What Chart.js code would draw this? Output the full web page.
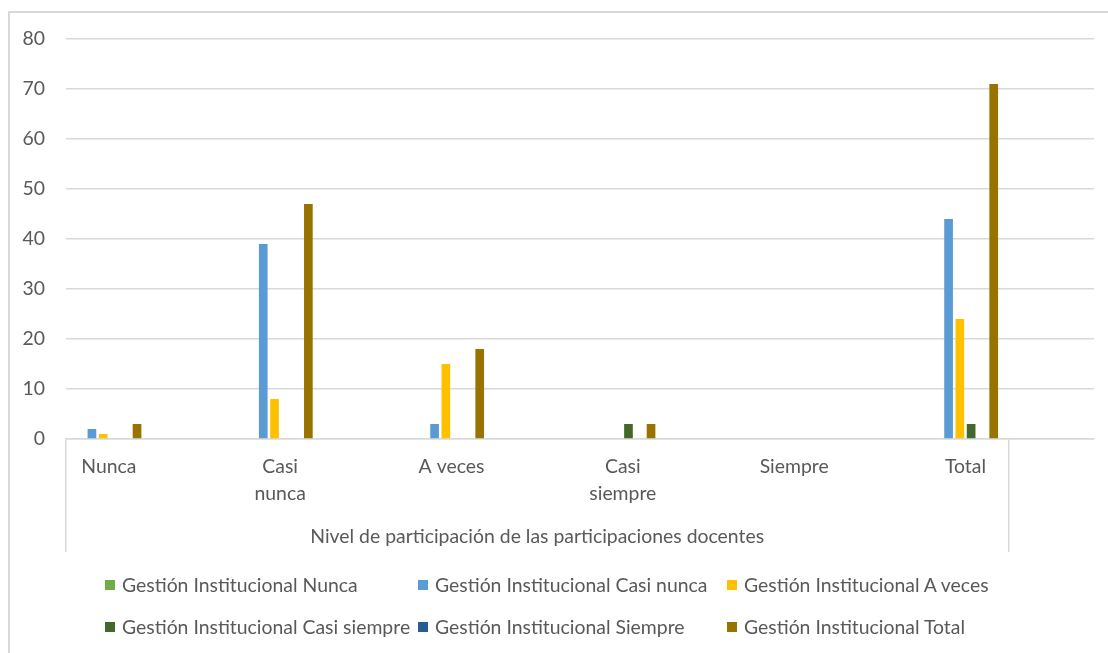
<!DOCTYPE html>
<html lang="es">
<head>
<meta charset="utf-8">
<title>Gestión Institucional</title>
<script src="https://cdn.jsdelivr.net/npm/chart.js@4/dist/chart.umd.min.js"></script>
<style>
  html, body { margin: 0; padding: 0; background: #ffffff; }
  #wrap { position: relative; width: 1108px; height: 653px; overflow: hidden; }
  #frame { position: absolute; left: 8px; top: 11px; width: 1200px; height: 700px;
           border-top: 2px solid #d9d9d9; border-left: 2px solid #d9d9d9; box-sizing: border-box; }
  canvas { position: absolute; left: 0; top: 0; }
  .leg { position: absolute; font-family: Lato, "Liberation Sans", sans-serif; font-size: 19.4px;
         color: #595959; white-space: nowrap; line-height: 20px; }
  .leg i { position: absolute; left: 0; top: 5px; width: 10px; height: 10px; }
  .leg span { position: absolute; left: 17px; top: 0; }
</style>
</head>
<body>
<div id="wrap">
  <div id="frame"></div>
  <canvas id="c" width="1108" height="653"></canvas>
  <div id="legend"></div>
</div>
<script>
// Categories (participation level) and one series per response group
const categories = ['Nunca', ['Casi', 'nunca'], 'A veces', ['Casi', 'siempre'], 'Siempre', 'Total'];
const groupLabel = 'Nivel de participación de las participaciones docentes';

const seriesNames = [
  'Gestión Institucional Nunca',
  'Gestión Institucional Casi nunca',
  'Gestión Institucional A veces',
  'Gestión Institucional Casi siempre',
  'Gestión Institucional Siempre',
  'Gestión Institucional Total'
];
const seriesColors = ['#70ad47', '#5b9bd5', '#ffc000', '#43682b', '#255e91', '#997300'];

const giNunca       = [0, 0, 0, 0, 0, 0];
const giCasiNunca   = [2, 39, 3, 0, 0, 44];
const giAVeces      = [1, 8, 15, 0, 0, 24];
const giCasiSiempre = [0, 0, 0, 3, 0, 3];
const giSiempre     = [0, 0, 0, 0, 0, 0];
const giTotal       = [3, 47, 18, 3, 0, 71];

const yTicks = [0, 10, 20, 30, 40, 50, 60, 70, 80];

// Each category is followed by an empty slot, as in the original workbook layout
const labels = categories.flatMap(c => [c, '']);
const spread = arr => arr.flatMap(v => [v, null]);
const seriesValues = [giNunca, giCasiNunca, giAVeces, giCasiSiempre, giSiempre, giTotal];

const FONT = 'Lato, "Liberation Sans", sans-serif';
const FSIZE = 19.4;
const TEXT = '#595959';
const GRID = '#d9d9d9';

// Divider positions on the category axis: start, end of the labelled group, and end of axis
const dividerIdx = [0, labels.length - 1, labels.length];

const groupLabelPlugin = {
  id: 'groupLabel',
  afterDraw(chart) {
    const x = chart.scales.x;
    const last = labels.length - 1;
    const step = x.getPixelForValue(1) - x.getPixelForValue(0);
    const groupRight = x.getPixelForValue(last) - step / 2;
    const ctx = chart.ctx;
    ctx.save();
    ctx.font = FSIZE + 'px ' + FONT;
    ctx.fillStyle = TEXT;
    ctx.textAlign = 'center';
    ctx.textBaseline = 'middle';
    ctx.fillText(groupLabel, (x.left + groupRight) / 2, 537);
    ctx.restore();
  }
};

const chart = new Chart(document.getElementById('c'), {
  type: 'bar',
  data: {
    labels: labels,
    datasets: seriesNames.map((name, i) => ({
      label: name,
      data: spread(seriesValues[i]),
      backgroundColor: seriesColors[i],
      borderWidth: 0,
      barPercentage: 0.77,
      categoryPercentage: 0.79
    }))
  },
  options: {
    responsive: false,
    animation: false,
    layout: { padding: { left: 0, top: 39, right: 14, bottom: 0 } },
    plugins: {
      legend: { display: false },
      tooltip: { enabled: false }
    },
    scales: {
      y: {
        min: 0,
        max: 80,
        afterBuildTicks(scale) { scale.ticks = yTicks.map(v => ({ value: v })); },
        afterFit(scale) { scale.width = 66; },
        border: { display: false },
        grid: { color: GRID, lineWidth: 1.5, drawTicks: false },
        ticks: { color: TEXT, padding: 21, font: { family: FONT, size: FSIZE } }
      },
      x: {
        afterFit(scale) { scale.height = 653 - 439; },
        border: { display: true, color: GRID, width: 1.5 },
        grid: {
          offset: true,
          drawOnChartArea: false,
          drawTicks: true,
          tickLength: 113,
          lineWidth: 1.5,
          color: ctx => dividerIdx.includes(ctx.index) ? GRID : 'rgba(0,0,0,0)',
          tickColor: ctx => dividerIdx.includes(ctx.index) ? GRID : 'rgba(0,0,0,0)'
        },
        ticks: {
          autoSkip: false,
          maxRotation: 0,
          minRotation: 0,
          padding: -98,
          color: TEXT,
          font: { family: FONT, size: FSIZE, lineHeight: 1.36 }
        }
      }
    }
  },
  plugins: [groupLabelPlugin]
});

// Legend laid out in three aligned columns, two rows
const legendCols = [105, 418, 727];
const legendRows = [575, 617];
const legendEl = document.getElementById('legend');
chart.data.datasets.forEach((ds, i) => {
  const item = document.createElement('div');
  item.className = 'leg';
  item.style.left = legendCols[i % 3] + 'px';
  item.style.top = legendRows[Math.floor(i / 3)] + 'px';
  const sw = document.createElement('i');
  sw.style.background = ds.backgroundColor;
  const tx = document.createElement('span');
  tx.textContent = ds.label;
  item.appendChild(sw);
  item.appendChild(tx);
  legendEl.appendChild(item);
});
</script>
</body>
</html>
